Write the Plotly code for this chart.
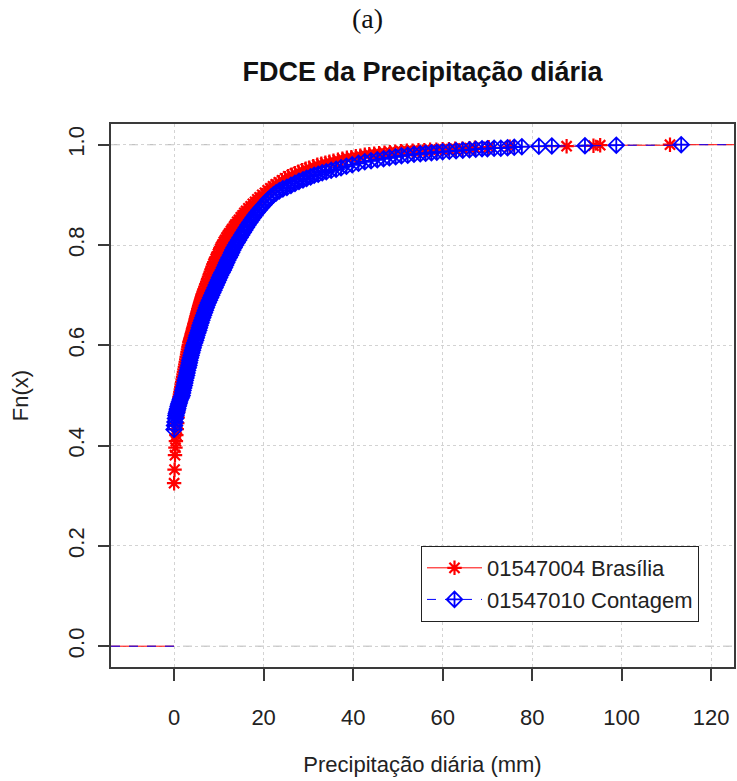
import plotly.graph_objects as go

# ---- data: ECDF knots (x in mm, Fn(x)) ----
bras_pts = [
    (0.0, .325), (0.1, .352), (0.2, .381), (0.3, .396), (0.4, .409), (0.5, .421), (0.6, .433),
    (0.7, .445), (0.8, .456), (0.9, .467), (1.0, .478), (1.1, .488), (1.2, .497), (1.3, .502),
    (1.4, .507), (1.5, .512), (1.6, .517), (1.7, .522), (1.8, .527), (1.9, .532), (2.0, .537),
    (2.1, .542), (2.2, .547), (2.3, .552), (2.4, .557), (2.5, .562), (2.6, .567), (2.7, .572),
    (2.8, .577), (2.9, .582), (3.0, .587), (3.1, .592), (3.2, .597), (3.3, .601), (3.4, .606),
    (3.5, .609), (3.6, .612), (3.7, .615), (3.8, .618), (3.9, .622), (4.0, .625), (4.1, .628),
    (4.2, .632), (4.3, .635), (4.4, .638), (4.5, .642), (4.6, .645), (4.7, .648), (4.8, .652),
    (4.9, .655), (5.0, .658), (5.1, .662), (5.2, .665), (5.3, .668), (5.4, .672), (5.5, .675),
    (5.6, .678), (5.7, .681), (5.8, .684), (5.9, .687), (6.0, .690), (6.1, .693), (6.2, .696),
    (6.3, .699), (6.4, .702), (6.6, .707), (6.8, .712), (7.0, .717), (7.2, .722), (7.4, .727),
    (7.6, .732), (7.8, .737), (8.0, .742), (8.2, .747), (8.4, .752), (8.6, .757), (8.8, .762),
    (9.0, .766), (9.3, .772), (9.5, .776), (9.8, .782), (10.0, .786), (10.3, .792), (10.5, .796),
    (10.8, .801), (11.1, .806), (11.4, .810), (11.7, .815), (12.0, .819), (12.3, .823),
    (12.7, .828), (13.0, .832), (13.4, .837), (13.7, .841), (14.1, .846), (14.5, .850),
    (14.9, .855), (15.3, .859), (15.7, .864), (16.1, .868), (16.6, .873), (17.1, .877),
    (17.6, .882), (18.1, .886), (18.6, .891), (19.1, .895), (19.7, .900), (20.3, .904),
    (20.9, .909), (21.5, .913), (22.1, .917), (22.7, .921), (23.4, .925), (24.1, .929),
    (24.8, .933), (25.5, .937), (26.3, .940), (27.0, .943), (27.8, .946), (28.6, .949),
    (29.4, .952), (30.2, .954), (31.1, .957), (32.0, .960), (32.9, .962), (33.8, .964),
    (34.7, .966), (35.6, .968), (36.6, .970), (37.6, .972), (38.6, .974), (39.6, .975),
    (40.6, .977), (41.6, .978), (42.6, .980), (43.6, .981), (44.7, .982), (45.8, .983),
    (47.0, .984), (48.2, .985), (49.4, .986), (50.7, .987), (52.0, .988), (53.3, .988),
    (54.6, .989), (55.9, .989), (57.2, .990), (58.6, .990), (60.0, .991), (61.4, .991),
    (62.8, .992), (64.4, .992), (66.0, .993), (67.2, .994), (70.3, .995), (75.0, .996),
    (87.7, .997), (93.7, .998), (95.2, .999), (110.8, 1.000),
]
cont_pts = [
    (0.0, .432), (0.1, .440), (0.2, .447), (0.3, .454), (0.4, .460), (0.5, .464), (0.6, .467),
    (0.7, .471), (0.8, .474), (0.9, .478), (1.0, .481), (1.1, .484), (1.2, .487), (1.35, .491),
    (1.5, .494), (1.65, .497), (1.8, .500), (1.9, .505), (2.0, .510), (2.15, .515), (2.3, .520),
    (2.4, .525), (2.5, .530), (2.65, .535), (2.8, .540), (2.9, .545), (3.0, .550), (3.15, .555),
    (3.3, .560), (3.4, .565), (3.5, .570), (3.65, .575), (3.8, .580), (3.95, .585), (4.1, .590),
    (4.25, .595), (4.4, .600), (4.6, .605), (4.8, .610), (4.95, .615), (5.1, .620), (5.3, .625),
    (5.5, .630), (5.65, .635), (5.8, .640), (6.0, .645), (6.2, .650), (6.4, .655), (6.6, .660),
    (6.8, .665), (7.0, .670), (7.2, .675), (7.4, .680), (7.65, .685), (7.9, .690), (8.15, .695),
    (8.4, .700), (8.65, .705), (8.9, .710), (9.15, .715), (9.4, .720), (9.65, .725), (9.9, .730),
    (10.15, .735), (10.4, .740), (10.7, .745), (11.0, .750), (11.25, .755), (11.5, .760),
    (11.75, .765), (12.0, .770), (12.3, .775), (12.6, .780), (12.85, .785), (13.1, .790),
    (13.4, .795), (13.7, .800), (14.05, .805), (14.4, .810), (14.75, .815), (15.1, .820),
    (15.45, .825), (15.8, .830), (16.15, .835), (16.5, .840), (16.9, .845), (17.3, .850),
    (17.7, .855), (18.1, .860), (18.55, .865), (19.0, .870), (19.5, .875), (20.0, .880),
    (20.5, .885), (21.0, .890), (21.6, .895), (22.2, .900), (22.8, .904), (23.5, .908),
    (24.3, .912), (25.2, .915), (26.1, .919), (27.0, .923), (27.9, .927), (28.8, .930),
    (29.6, .933), (30.5, .936), (31.3, .939), (32.2, .941), (33.1, .944), (34.0, .946),
    (35.1, .949), (36.2, .951), (37.3, .954), (38.5, .957), (39.8, .960), (41.2, .963),
    (42.6, .966), (44.0, .968), (45.4, .970), (46.8, .972), (48.1, .974), (49.5, .976),
    (50.8, .978), (52.2, .979), (53.6, .981), (55.0, .982), (56.2, .983), (57.5, .984),
    (58.7, .985), (60.0, .986), (61.5, .987), (63.0, .988), (64.5, .989), (66.0, .990),
    (67.4, .991), (68.8, .992), (70.0, .992), (71.5, .993), (73.0, .993), (74.5, .994),
    (76.0, .995), (77.7, .996), (81.5, .997), (84.4, .9975), (91.8, .998), (98.8, .999),
    (113.3, 1.000),
]
bras_x = [p[0] for p in bras_pts]
bras_f = [p[1] for p in bras_pts]
cont_x = [p[0] for p in cont_pts]
cont_f = [p[1] for p in cont_pts]

series_names = ["01547004 Brasília", "01547010 Contagem"]
x_ticks = [0, 20, 40, 60, 80, 100, 120]
y_ticks = [0.0, 0.2, 0.4, 0.6, 0.8, 1.0]
y_tick_text = ["0.0", "0.2", "0.4", "0.6", "0.8", "1.0"]
x_range = [-14.1, 125.1]
y_range = [-0.0415, 1.0413]

FONT = "Liberation Sans, Arial, sans-serif"
AXC = "#3a3a3a"

fig = go.Figure()

# ECDF tails (left at 0, right at 1) -- not in legend
for xs, col, dash in [(bras_x, "red", "solid"), (cont_x, "blue", "dash")]:
    fig.add_trace(go.Scatter(x=[x_range[0], xs[0]], y=[0, 0], mode="lines",
                             line=dict(color=col, width=1, dash=dash),
                             showlegend=False, hoverinfo="skip"))
    fig.add_trace(go.Scatter(x=[xs[-1], x_range[1]], y=[1, 1], mode="lines",
                             line=dict(color=col, width=1, dash=dash),
                             showlegend=False, hoverinfo="skip"))

fig.add_trace(go.Scatter(
    x=bras_x, y=bras_f, name=series_names[0], mode="lines+markers",
    line=dict(color="red", width=1, shape="hv"),
    marker=dict(symbol="asterisk-open", size=12, color="red",
                line=dict(color="red", width=2.2)),
))
fig.add_trace(go.Scatter(
    x=cont_x, y=cont_f, name=series_names[1], mode="lines+markers",
    line=dict(color="blue", width=1, shape="hv", dash="dash"),
    marker=dict(symbol="diamond-cross-open", size=12, color="blue",
                line=dict(color="blue", width=1.8)),
))

# ECDF reference lines at 0 and 1
for yv in [0, 1]:
    fig.add_shape(type="line", xref="paper", x0=0, x1=1, yref="y", y0=yv, y1=yv,
                  line=dict(color="#b3b3b3", width=1, dash="dash"), layer="below")

fig.update_layout(
    width=737, height=781,
    margin=dict(l=111, r=1, t=124, b=114),
    paper_bgcolor="white", plot_bgcolor="white",
    font=dict(family=FONT, size=22, color="#222"),
    title=dict(text="FDCE da Precipitação diária", x=0.5, xref="paper",
               y=1 - 72 / 781, yref="container", yanchor="middle", xanchor="center",
               font=dict(family=FONT, size=27, weight="bold", color="#111")),
    showlegend=True,
    legend=dict(x=0.4976, y=0.2228, xanchor="left", yanchor="top",
                bgcolor="white", bordercolor="#222", borderwidth=1, itemwidth=55,
                font=dict(family=FONT, size=22, color="#222")),
    annotations=[dict(text="(a)", xref="paper", yref="paper", x=(368 - 111) / 625,
                      y=(667 - 19) / 543, showarrow=False, yanchor="middle",
                      font=dict(family="Liberation Serif, Times New Roman, serif",
                                size=28, color="#111"))],
)

fig.update_xaxes(
    range=x_range, tickvals=x_ticks, ticks="outside", ticklen=12, tickwidth=1.5,
    tickcolor=AXC, showline=True, mirror=True, linecolor=AXC, linewidth=1.5,
    showgrid=True, gridcolor="#d3d3d3", griddash="dot", gridwidth=1, zeroline=False,
    ticklabelstandoff=18,
    title=dict(text="Precipitação diária (mm)", standoff=27,
               font=dict(family=FONT, size=22, color="#222")),
)
fig.update_yaxes(
    range=y_range, tickvals=y_ticks, ticktext=y_tick_text, tickangle=-90,
    ticks="outside", ticklen=11, tickwidth=1.5,
    tickcolor=AXC, showline=True, mirror=True, linecolor=AXC, linewidth=1.5,
    showgrid=True, gridcolor="#d3d3d3", griddash="dot", gridwidth=1, zeroline=False,
    ticklabelstandoff=5,
    title=dict(text="Fn(x)", standoff=30, font=dict(family=FONT, size=22, color="#222")),
)

fig.write_html("out.html", config={"displayModeBar": False})
